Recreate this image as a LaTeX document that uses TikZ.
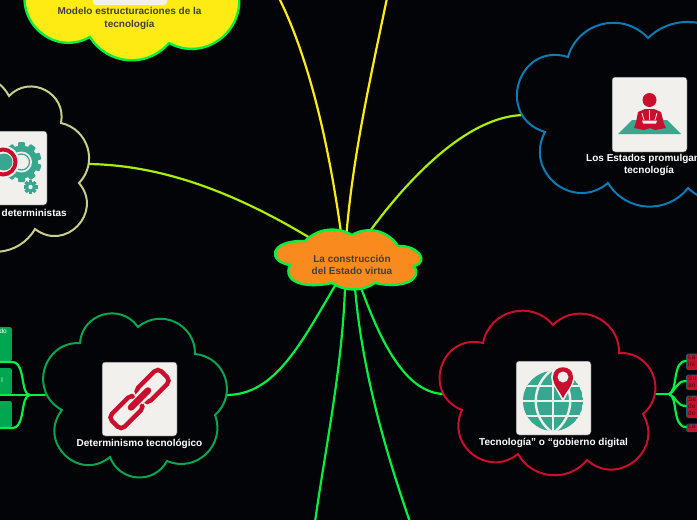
\documentclass[tikz,border=0pt]{standalone}
\usepackage{fontspec}
\setmainfont{Liberation Sans}
\usetikzlibrary{calc}
\definecolor{bgc}{HTML}{020408}
\definecolor{ctrfill}{HTML}{F98B1E}
\definecolor{linegreen}{HTML}{00F040}
\definecolor{lime}{HTML}{A8F000}
\definecolor{ylw}{HTML}{FFEB14}
\definecolor{tealc}{HTML}{37A88F}
\definecolor{redc}{HTML}{C8102E}
\definecolor{greenc}{HTML}{00A650}
\definecolor{bluec}{HTML}{0A7CB5}
\definecolor{wheatc}{HTML}{C9CD8A}
\definecolor{tile}{HTML}{F1F0EC}
\definecolor{tabedge}{HTML}{1F5F6B}
\newcommand\lb[3]{.. controls ($(#2)!{#1/sin(2*atan(1.5*#1))}!{2*atan(1.5*#1)}:(#3)$) and ($(#3)!{#1/sin(2*atan(1.5*#1))}!{-2*atan(1.5*#1)}:(#2)$) .. (#3)}
\tikzset{
  x=1pt,y=-1pt,
  cloudline/.style={line width=2pt,line join=miter,miter limit=10},
  conn/.style={line width=2.2pt,line cap=round},
  tileshape/.style={fill=tile,draw=black!80,line width=.5pt,rounded corners=3pt},
  label/.style={font=\fontsize{10}{12.2}\selectfont\bfseries,text=white,align=center,inner sep=0pt},
  darklabel/.style={label,text=black!75},
  greentab/.style={fill=greenc,rounded corners=1.5pt,anchor=north east,inner sep=0pt},
  redtab/.style={fill=redc,draw=tabedge,line width=1pt,rounded corners=1.5pt,anchor=north west,inner sep=0pt},
  tabtext/.style={font=\fontsize{6.5}{7}\selectfont,inner sep=0pt,align=left},
}
\begin{document}
\begin{tikzpicture}
\path[use as bounding box,fill=bgc] (0,0) rectangle (697,520);
\clip (0,0) rectangle (697,520);

% connector free ends
\coordinate (ctrA) at (342,240);
\coordinate (ctrB) at (346,240);
\coordinate (ctrC) at (315,241);
\coordinate (ctrD) at (365,238);
\coordinate (ctrE) at (336,284);
\coordinate (ctrF) at (345,288);
\coordinate (ctrG) at (355,288);
\coordinate (ctrH) at (360,285);
\coordinate (topA) at (279,-2);
\coordinate (topB) at (387,-2);
\coordinate (gearE) at (88,164);
\coordinate (blueE) at (525,115);
\coordinate (linkE) at (226,395);
\coordinate (globeE) at (445,394);
\coordinate (botA) at (315,522);
\coordinate (botB) at (410,522);
\coordinate (leftS) at (45,395);
\coordinate (leftM) at (30,395);
\coordinate (rightS) at (655,394);
\coordinate (rightM) at (669,394);

% connectors
\draw[conn,ylw] (ctrA) .. controls (330,150) and (310,60) .. (topA);
\draw[conn,ylw] (ctrB) .. controls (352,160) and (370,80) .. (topB);
\draw[conn,lime] (ctrC) .. controls (240,195) and (165,165) .. (gearE);
\draw[conn,lime] (ctrD) .. controls (410,175) and (470,115) .. (blueE);
\draw[conn,linegreen] (ctrE) .. controls (300,345) and (275,395) .. (linkE);
\draw[conn,linegreen] (ctrF) .. controls (342,370) and (325,450) .. (botA);
\draw[conn,linegreen] (ctrG) .. controls (362,370) and (385,450) .. (botB);
\draw[conn,linegreen] (ctrH) .. controls (380,340) and (405,394) .. (globeE);

% green tabs
\node[greentab,minimum width=22pt,minimum height=34pt] (g1) at (12,327) {};
\node[greentab,minimum width=22pt,minimum height=26pt] (g2) at (12,368) {};
\node[greentab,minimum width=22pt,minimum height=26pt] (g3) at (12,401) {};
\node[tabtext,text=white,anchor=north east] (g1t) at (7,329) {do};
\node[tabtext,text=white,anchor=north east] (g2t) at (3,378) {l};
\coordinate (g1e) at (0,362);
\coordinate (g2e) at (0,395);
\coordinate (g3e) at (0,428);
\draw[conn,linegreen] (leftS) -- (leftM);
\draw[conn,linegreen] (leftM) -- (g2e);
\draw[conn,linegreen] (leftM) .. controls (20,395) and (26,362) .. (12,362) -- (g1e);
\draw[conn,linegreen] (leftM) .. controls (20,395) and (26,428) .. (12,428) -- (g3e);

% red tabs
\node[redtab,minimum width=20pt,minimum height=15.5pt] (r1) at (686,353.5) {};
\node[redtab,minimum width=20pt,minimum height=14.5pt] (r2) at (686,374.5) {};
\node[redtab,minimum width=20pt,minimum height=21.5pt] (r3) at (686,395.5) {};
\node[redtab,minimum width=20pt,minimum height=7.5pt] (r4) at (686,423.5) {};
\node[tabtext,text=black!60!redc,anchor=north west] (r1t) at (688,354.5) {La\\ini};
\node[tabtext,text=black!60!redc,anchor=north west] (r2t) at (688,375.5) {Su\\an};
\node[tabtext,text=black!60!redc,anchor=north west] (r3t) at (688,396.5) {Se\\de\\de};
\node[tabtext,text=black!60!redc,anchor=north west] (r4t) at (688,424) {La};
\coordinate (r1e) at (686,361);
\coordinate (r2e) at (686,381);
\coordinate (r3e) at (686,406);
\coordinate (r4e) at (686,427);
\draw[conn,linegreen] (rightS) -- (rightM);
\draw[conn,linegreen] (rightM) .. controls (678,392) and (672,361) .. (r1e);
\draw[conn,linegreen] (rightM) .. controls (676,391) and (676,381) .. (r2e);
\draw[conn,linegreen] (rightM) .. controls (676,396) and (676,406) .. (r3e);
\draw[conn,linegreen] (rightM) .. controls (678,396) and (672,427) .. (r4e);

% clouds
\draw[cloudline,fill=ctrfill,draw=linegreen,line width=2.4pt]
 (305,241) \lb{.23}{305,241}{352,235} \lb{.27}{352,235}{398,246}
 .. controls (418,245) and (430,262) .. (414,266)
 .. controls (423,280) and (403,289) .. (375,283)
 \lb{.2}{375,283}{332,283}
 .. controls (305,289) and (282,282) .. (290,265)
 .. controls (268,262) and (268,240) .. (305,241) -- cycle;
\draw[cloudline,fill=bgc,draw=greenc]
 (80,343) \lb{.47}{80,343}{138,327} \lb{.43}{138,327}{195,354} \lb{.44}{195,354}{215,415}
 \lb{.44}{215,415}{167,461} \lb{.43}{167,461}{110,457} \lb{.6}{110,457}{62,410} \lb{.53}{62,410}{80,343} -- cycle;
\draw[cloudline,fill=bgc,draw=redc]
 (483,343) \lb{.42}{483,343}{553,325} \lb{.45}{553,325}{619,353} \lb{.48}{619,353}{643,414}
 \lb{.57}{643,414}{587,460} \lb{.35}{587,460}{518,454} \lb{.53}{518,454}{462,410} \lb{.62}{462,410}{483,343} -- cycle;
\draw[cloudline,fill=bgc,draw=bluec]
 (568,57) \lb{.39}{568,57}{648,38} \lb{.4}{648,38}{745,70} \lb{.5}{745,70}{770,140}
 \lb{.5}{770,140}{688,188} \lb{.35}{688,188}{608,183} \lb{.55}{608,183}{545,132} \lb{.67}{545,132}{568,57} -- cycle;
\draw[cloudline,fill=bgc,draw=wheatc]
 (9,96) \lb{.5}{9,96}{61,123} \lb{.39}{61,123}{79,183} \lb{.6}{79,183}{35,229}
 \lb{.35}{35,229}{-40,235} \lb{.5}{-40,235}{-100,190} \lb{.5}{-100,190}{-60,110} \lb{.5}{-60,110}{9,96} -- cycle;
\draw[cloudline,fill=ylw,draw=linegreen,line width=2.4pt]
 (90,37) \lb{.5}{90,37}{30,-22} \lb{.3}{30,-22}{60,-80} \lb{.3}{60,-80}{200,-80} \lb{.3}{200,-80}{233,-22}
 \lb{.5}{233,-22}{169,43} \lb{.34}{169,43}{90,37} -- cycle;

% labels
\node[darklabel] (ctrT) at (352,264.5) {La construcción\\del Estado virtua};
\node[darklabel] (ylwT) at (129.5,18.5) {Modelo estructuraciones de la\\tecnología};
\node[label] (linkT) at (139.5,444) {Determinismo tecnológico};
\node[label] (globeT) at (553.5,442.5) {Tecnología” o “gobierno digital};
\node[label,anchor=west] (blueT) at (586,159) {Los Estados promulgan};
\node[label] (blueU) at (649,171) {tecnología};
\node[label,anchor=west] (gearT) at (1.5,213) {deterministas};

% yellow tile
\draw[tileshape,draw=none] (93,-20) rectangle (167,5);

% link tile
\draw[tileshape] (102,362) rectangle (177,436);
\begin{scope}[shift={(139.5,399)},rotate=45,line width=4.4pt,draw=redc]
  \draw[rounded corners=5pt] (-35,-9) rectangle (-2,9);
  \draw[tile,line width=9pt] (-8,0) -- (8,0);
  \draw[rounded corners=5pt] (2,-9) rectangle (35,9);
  \draw[tile,line width=9pt,line cap=butt] (3,6) -- (3,-6);
  \draw[redc,line width=6.5pt,line cap=round] (-12,0) -- (12,0);
\end{scope}

% globe tile
\draw[tileshape] (516,361) rectangle (591,435);
\begin{scope}
  \clip (553,401) circle (30);
  \fill[tealc] (553,401) circle (30);
  \draw[tile,line width=2.4pt] (523,386) -- (583,386) (523,401) -- (583,401) (523,416) -- (583,416) (553,371) -- (553,431);
  \draw[tile,line width=2.4pt] (553,369) .. controls (530,385) and (530,417) .. (553,433);
  \draw[tile,line width=2.4pt] (553,369) .. controls (576,385) and (576,417) .. (553,433);
\end{scope}
\fill[tile] (563,377) circle (12) (563,402) -- (552,382) -- (574,382) -- cycle;
\fill[redc] (563,398.5) .. controls (560,391) and (553,386) .. (553,377) .. controls (553,364) and (573,364) .. (573,377) .. controls (573,386) and (566,391) .. (563,398.5) -- cycle;
\fill[tile] (563,377) circle (5.5);

% person tile
\draw[tileshape] (612,77) rectangle (687,152);
\fill[tealc] (618,134) -- (632,120) -- (667,120) -- (681,134) -- cycle;
\fill[redc] (638,112) -- (645,109) -- (654,109) -- (661,112) -- (664,124) -- (666,128) -- (655,130) -- (650,128) -- (644,130) -- (634,128) -- (636,122) -- cycle;
\draw[tile,line width=.8pt] (649.5,110) -- (649.5,120) (642,113) -- (644,120) (657,113) -- (655,120);
\fill[tile] (642,120.5) -- (657,120.5) -- (656,123.5) -- (643,123.5) -- cycle;
\fill[redc] (649.5,100) circle (7);

% gear tile
\draw[tileshape] (-28,131) rectangle (47,205);
\begin{scope}[shift={(21.5,162)}]
  \foreach \a in {0,36,...,324} {
    \fill[tealc,rotate=\a,rounded corners=1pt] (-3.5,-20) rectangle (3.5,0);
  }
  \fill[tealc] (0,0) circle (16.5);
  \fill[tile] (0,0) circle (10.5);
  \draw[tealc,line width=1.2pt] (0,0) circle (8);
\end{scope}
\fill[tile] (3,162) circle (16.5);
\fill[tealc] (4,162) circle (8.5);
\draw[redc,line width=4pt] (3,162) circle (12.5);
\begin{scope}[shift={(30.5,187)}]
  \foreach \a in {0,45,...,315} {
    \fill[tealc,rotate=\a] (-1.6,-7) rectangle (1.6,0);
  }
  \fill[tealc] (0,0) circle (5.5);
  \fill[tile] (0,0) circle (2.2);
\end{scope}
\end{tikzpicture}
\end{document}
